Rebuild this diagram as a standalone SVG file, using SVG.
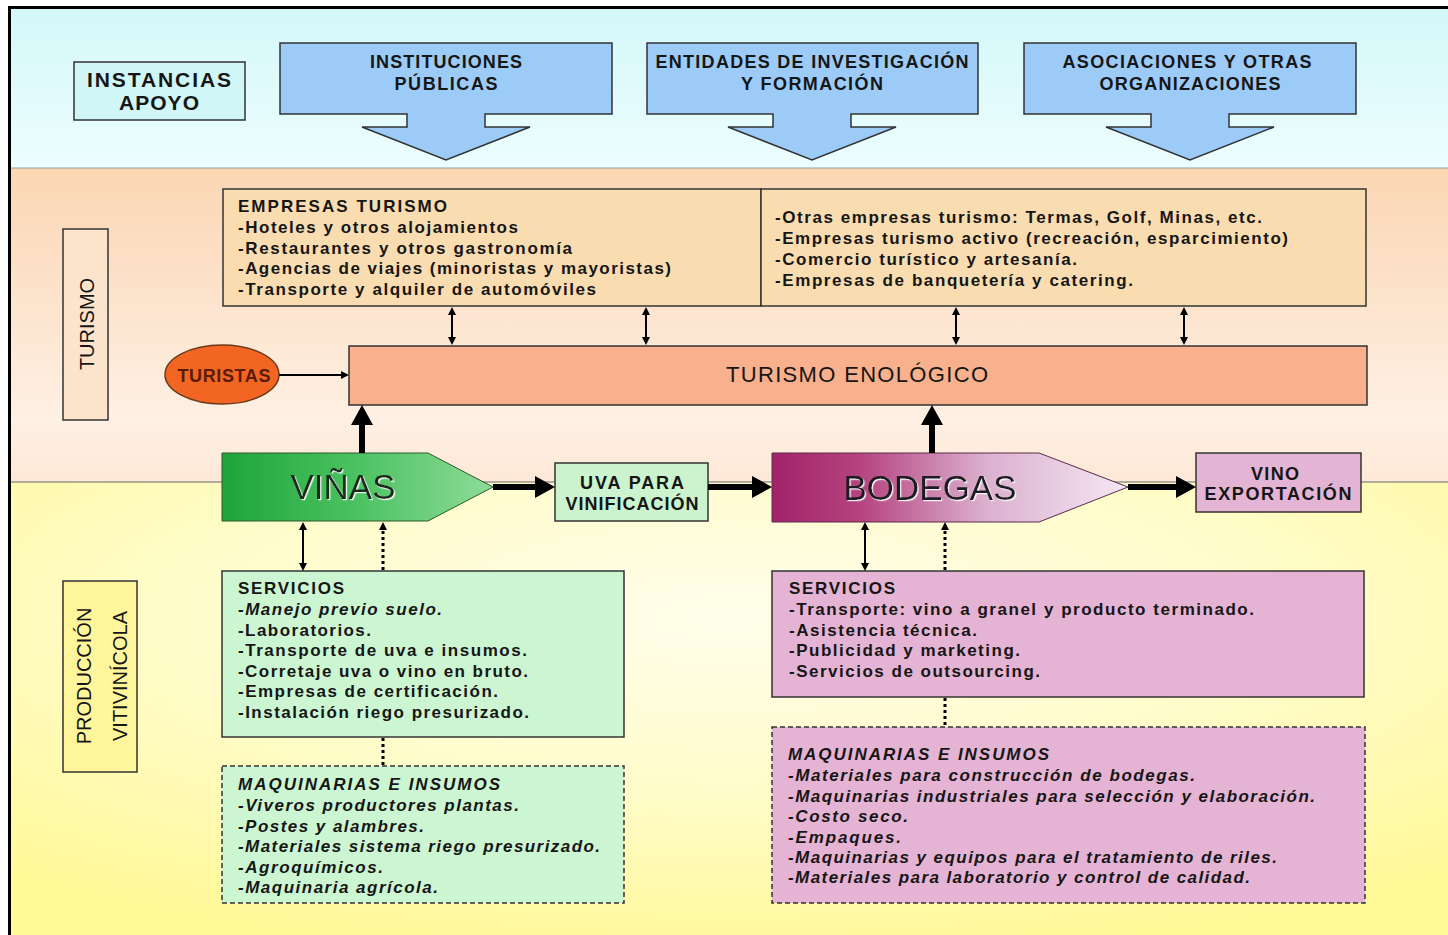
<svg xmlns="http://www.w3.org/2000/svg" width="1448" height="935" viewBox="0 0 1448 935">
<defs>
<style>
text{font-family:"Liberation Sans",Arial,Helvetica,sans-serif;fill:#161616}
.b{font-weight:bold;font-size:17px}
.bi{font-weight:bold;font-style:italic;font-size:17px}
.h{font-weight:bold;font-size:18px}
.r20{font-size:20px}
.big{font-size:35px}
.box{stroke:#333;stroke-width:1.5}
.dash{stroke:#333;stroke-width:1.5;stroke-dasharray:5 3}
.thin{stroke:#000;stroke-width:2;fill:none}
.thick{stroke:#000;stroke-width:6;fill:none}
.dot{stroke:#000;stroke-width:3;stroke-dasharray:3 3;fill:none}
.call{fill:#9CCBF8;stroke:#333;stroke-width:1.5}
</style>
<linearGradient id="gTop" x1="0" y1="0" x2="0" y2="1"><stop offset="0" stop-color="#D3F7F9"/><stop offset="1" stop-color="#EDFEFE"/></linearGradient>
<linearGradient id="gMid" x1="0" y1="0" x2="0" y2="1"><stop offset="0" stop-color="#FBD6B3"/><stop offset="0.8" stop-color="#FEF0E4"/><stop offset="1" stop-color="#FDE8D6"/></linearGradient>
<radialGradient id="gBot" cx="0.5" cy="0.3" r="0.75"><stop offset="0" stop-color="#FFFEEA"/><stop offset="0.5" stop-color="#FFFCCB"/><stop offset="1" stop-color="#FFF998"/></radialGradient>
<linearGradient id="gVin" x1="0" y1="0" x2="1" y2="0"><stop offset="0" stop-color="#1EA43A"/><stop offset="0.5" stop-color="#4CC262"/><stop offset="1" stop-color="#8EDB98"/></linearGradient>
<linearGradient id="gBod" x1="0" y1="0" x2="1" y2="0"><stop offset="0" stop-color="#A2226A"/><stop offset="0.25" stop-color="#B5447F"/><stop offset="0.6" stop-color="#DBB0CF"/><stop offset="1" stop-color="#F4E8F4"/></linearGradient>
<filter id="emb" x="-10%" y="-20%" width="120%" height="140%"><feDropShadow dx="1.2" dy="1.2" stdDeviation="0.4" flood-color="#ffffff" flood-opacity="0.9"/></filter>
<marker id="sm" viewBox="0 0 8 8" refX="0" refY="4" markerWidth="8" markerHeight="8" markerUnits="userSpaceOnUse" orient="auto-start-reverse"><path d="M0,0 L8,4 L0,8 z" fill="#000"/></marker>
<marker id="bg" viewBox="0 0 20 22" refX="0" refY="11" markerWidth="20" markerHeight="22" markerUnits="userSpaceOnUse" orient="auto"><path d="M0,0 L20,11 L0,22 z" fill="#000"/></marker>
</defs>

<g id="bands">
<rect x="9" y="7" width="1439" height="161" fill="url(#gTop)"/>
<rect x="9" y="168" width="1439" height="314" fill="url(#gMid)"/>
<rect x="9" y="482" width="1439" height="453" fill="url(#gBot)"/>
<line x1="9" y1="168" x2="1448" y2="168" stroke="#9a9a9a" stroke-width="1"/>
<line x1="9" y1="482" x2="1448" y2="482" stroke="#666" stroke-width="1"/>
<path d="M9.5,935 V7.5 H1448" fill="none" stroke="#000" stroke-width="3"/>
</g>

<g id="instancias">
<rect class="box" x="74" y="62" width="171" height="58" fill="#D0F6F8"/>
<text font-size="21" font-weight="bold" x="159" y="87" text-anchor="middle" textLength="144" lengthAdjust="spacing">INSTANCIAS</text>
<text font-size="21" font-weight="bold" x="159" y="110" text-anchor="middle" textLength="80" lengthAdjust="spacing">APOYO</text>
</g>

<g id="instituciones">
<path class="call" d="M280,43 H612 V114 H485 V127 H530 L446,160 L362,127 H407 V114 H280 Z"/>
<text class="h" x="446" y="68" text-anchor="middle" textLength="152" lengthAdjust="spacing">INSTITUCIONES</text>
<text class="h" x="446" y="90" text-anchor="middle" textLength="103" lengthAdjust="spacing">PÚBLICAS</text>
</g>

<g id="entidades">
<path class="call" d="M647,43 H978 V114 H851 V127 H896 L812,160 L728,127 H773 V114 H647 Z"/>
<text class="h" x="812" y="68" text-anchor="middle" textLength="313" lengthAdjust="spacing">ENTIDADES DE INVESTIGACIÓN</text>
<text class="h" x="812" y="90" text-anchor="middle" textLength="142" lengthAdjust="spacing">Y FORMACIÓN</text>
</g>

<g id="asociaciones">
<path class="call" d="M1024,43 H1356 V114 H1229 V127 H1274 L1190,160 L1106,127 H1151 V114 H1024 Z"/>
<text class="h" x="1187" y="68" text-anchor="middle" textLength="249" lengthAdjust="spacing">ASOCIACIONES Y OTRAS</text>
<text class="h" x="1190" y="90" text-anchor="middle" textLength="181" lengthAdjust="spacing">ORGANIZACIONES</text>
</g>

<g id="turismo-label">
<rect class="box" x="63" y="229" width="45" height="191" fill="#FCE3CC"/>
<text class="r20" transform="translate(94,324) rotate(-90)" text-anchor="middle">TURISMO</text>
</g>

<g id="produccion-label">
<rect class="box" x="63" y="581" width="74" height="191" fill="#FFF59B"/>
<text class="r20" transform="translate(91,676) rotate(-90)" text-anchor="middle">PRODUCCIÓN</text>
<text class="r20" transform="translate(127,676) rotate(-90)" text-anchor="middle">VITIVINÍCOLA</text>
</g>

<g id="empresas-turismo">
<rect class="box" x="223" y="189" width="538" height="117" fill="#F9DDB1"/>
<text class="b" x="238" y="212" textLength="209" lengthAdjust="spacing">EMPRESAS TURISMO</text>
<text class="b" x="238" y="233" textLength="280" lengthAdjust="spacing">-Hoteles y otros alojamientos</text>
<text class="b" x="238" y="254" textLength="334" lengthAdjust="spacing">-Restaurantes y otros gastronomía</text>
<text class="b" x="238" y="274" textLength="433" lengthAdjust="spacing">-Agencias de viajes (minoristas y mayoristas)</text>
<text class="b" x="238" y="295" textLength="358" lengthAdjust="spacing">-Transporte y alquiler de automóviles</text>
</g>

<g id="otras-empresas">
<rect class="box" x="761" y="189" width="605" height="117" fill="#F9DDB1"/>
<text class="b" x="775" y="223" textLength="487" lengthAdjust="spacing">-Otras empresas turismo: Termas, Golf, Minas, etc.</text>
<text class="b" x="775" y="244" textLength="513" lengthAdjust="spacing">-Empresas turismo activo (recreación, esparcimiento)</text>
<text class="b" x="775" y="265" textLength="302" lengthAdjust="spacing">-Comercio turístico y artesanía.</text>
<text class="b" x="775" y="286" textLength="358" lengthAdjust="spacing">-Empresas de banquetería y catering.</text>
</g>

<g id="turismo-enologico">
<rect class="box" x="349" y="346" width="1018" height="59" fill="#F8B08D"/>
<text x="857" y="382" font-size="22" text-anchor="middle" textLength="262" lengthAdjust="spacing">TURISMO ENOLÓGICO</text>
</g>

<g id="turistas">
<ellipse cx="222" cy="374.5" rx="57" ry="29.5" fill="#F26522" stroke="#6b3a1a" stroke-width="1.5"/>
<text x="224" y="382" font-size="18" font-weight="bold" text-anchor="middle" textLength="93" lengthAdjust="spacing" style="fill:#5a1c04">TURISTAS</text>
</g>

<g id="vinas">
<path d="M222,453 H428 L493,487 L428,521 H222 Z" fill="url(#gVin)" stroke="#2a5a2a" stroke-width="1"/>
<text class="big" x="343" y="499" text-anchor="middle" filter="url(#emb)" style="fill:#1a2a1a">VIÑAS</text>
</g>

<g id="uva">
<rect class="box" x="555" y="463" width="153" height="58" fill="#CBF3CD"/>
<text class="h" x="632" y="489" text-anchor="middle" textLength="104" lengthAdjust="spacing">UVA PARA</text>
<text class="h" x="632" y="510" text-anchor="middle" textLength="133" lengthAdjust="spacing">VINIFICACIÓN</text>
</g>

<g id="bodegas">
<path d="M772,453 H1039 L1128,487 L1039,522 H772 Z" fill="url(#gBod)" stroke="#5a2a4a" stroke-width="1"/>
<text class="big" x="930" y="500" text-anchor="middle" filter="url(#emb)" style="fill:#1a1a22">BODEGAS</text>
</g>

<g id="vino-exportacion">
<rect class="box" x="1196" y="453" width="165" height="59" fill="#E4B4D4"/>
<text class="h" x="1275" y="480" text-anchor="middle" textLength="48" lengthAdjust="spacing">VINO</text>
<text class="h" x="1278" y="500" text-anchor="middle" textLength="147" lengthAdjust="spacing">EXPORTACIÓN</text>
</g>

<g id="servicios-vinas">
<rect class="box" x="222" y="571" width="402" height="166" fill="#CCF5D2"/>
<text class="b" x="238" y="594" textLength="106" lengthAdjust="spacing">SERVICIOS</text>
<text class="bi" x="238" y="615" textLength="204" lengthAdjust="spacing">-Manejo previo suelo.</text>
<text class="b" x="238" y="636" textLength="133" lengthAdjust="spacing">-Laboratorios.</text>
<text class="b" x="238" y="656" textLength="289" lengthAdjust="spacing">-Transporte de uva e insumos.</text>
<text class="b" x="238" y="677" textLength="290" lengthAdjust="spacing">-Corretaje uva o vino en bruto.</text>
<text class="b" x="238" y="697" textLength="260" lengthAdjust="spacing">-Empresas de certificación.</text>
<text class="b" x="238" y="718" textLength="291" lengthAdjust="spacing">-Instalación riego presurizado.</text>
</g>

<g id="maquinarias-vinas">
<rect class="dash" x="222" y="766" width="402" height="137" fill="#CCF5D2"/>
<text class="bi" x="238" y="790" textLength="262" lengthAdjust="spacing">MAQUINARIAS E INSUMOS</text>
<text class="bi" x="238" y="811" textLength="281" lengthAdjust="spacing">-Viveros productores plantas.</text>
<text class="bi" x="238" y="832" textLength="186" lengthAdjust="spacing">-Postes y alambres.</text>
<text class="bi" x="238" y="852" textLength="362" lengthAdjust="spacing">-Materiales sistema riego presurizado.</text>
<text class="bi" x="238" y="873" textLength="145" lengthAdjust="spacing">-Agroquímicos.</text>
<text class="bi" x="238" y="893" textLength="200" lengthAdjust="spacing">-Maquinaria agrícola.</text>
</g>

<g id="servicios-bodegas">
<rect class="box" x="772" y="571" width="592" height="126" fill="#E5B3D3"/>
<text class="b" x="789" y="594" textLength="106" lengthAdjust="spacing">SERVICIOS</text>
<text class="b" x="789" y="615" textLength="465" lengthAdjust="spacing">-Transporte: vino a granel y producto terminado.</text>
<text class="b" x="789" y="636" textLength="188" lengthAdjust="spacing">-Asistencia técnica.</text>
<text class="b" x="789" y="656" textLength="231" lengthAdjust="spacing">-Publicidad y marketing.</text>
<text class="b" x="789" y="677" textLength="251" lengthAdjust="spacing">-Servicios de outsourcing.</text>
</g>

<g id="maquinarias-bodegas">
<rect class="dash" x="772" y="727" width="593" height="176" fill="#E5B3D3"/>
<text class="bi" x="788" y="760" textLength="261" lengthAdjust="spacing">MAQUINARIAS E INSUMOS</text>
<text class="bi" x="788" y="781" textLength="407" lengthAdjust="spacing">-Materiales para construcción de bodegas.</text>
<text class="bi" x="788" y="802" textLength="527" lengthAdjust="spacing">-Maquinarias industriales para selección y elaboración.</text>
<text class="bi" x="788" y="822" textLength="120" lengthAdjust="spacing">-Costo seco.</text>
<text class="bi" x="788" y="843" textLength="113" lengthAdjust="spacing">-Empaques.</text>
<text class="bi" x="788" y="863" textLength="489" lengthAdjust="spacing">-Maquinarias y equipos para el tratamiento de riles.</text>
<text class="bi" x="788" y="883" textLength="462" lengthAdjust="spacing">-Materiales para laboratorio y control de calidad.</text>
</g>

<g id="connectors">
<line class="thin" x1="452" y1="315" x2="452" y2="337" marker-start="url(#sm)" marker-end="url(#sm)"/>
<line class="thin" x1="646" y1="315" x2="646" y2="337" marker-start="url(#sm)" marker-end="url(#sm)"/>
<line class="thin" x1="956" y1="315" x2="956" y2="337" marker-start="url(#sm)" marker-end="url(#sm)"/>
<line class="thin" x1="1184" y1="315" x2="1184" y2="337" marker-start="url(#sm)" marker-end="url(#sm)"/>
<line class="thin" x1="279" y1="375" x2="341" y2="375" marker-end="url(#sm)"/>
<line class="thick" x1="362" y1="453" x2="362" y2="425" marker-end="url(#bg)"/>
<line class="thick" x1="932" y1="453" x2="932" y2="425" marker-end="url(#bg)"/>
<line class="thick" x1="493" y1="487" x2="535" y2="487" marker-end="url(#bg)"/>
<line class="thick" x1="708" y1="487" x2="752" y2="487" marker-end="url(#bg)"/>
<line class="thick" x1="1128" y1="487" x2="1176" y2="487" marker-end="url(#bg)"/>
<line class="thin" x1="303" y1="530" x2="303" y2="563" marker-start="url(#sm)" marker-end="url(#sm)"/>
<line class="dot" x1="383" y1="570" x2="383" y2="530" marker-end="url(#sm)"/>
<line class="thin" x1="865" y1="530" x2="865" y2="563" marker-start="url(#sm)" marker-end="url(#sm)"/>
<line class="dot" x1="945" y1="570" x2="945" y2="530" marker-end="url(#sm)"/>
<line class="dot" x1="383" y1="738" x2="383" y2="766"/>
<line class="dot" x1="945" y1="698" x2="945" y2="727"/>
</g>
</svg>
